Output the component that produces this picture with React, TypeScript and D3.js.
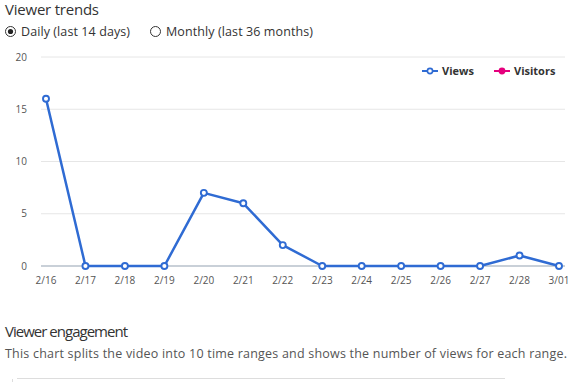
import React from "react";
import * as d3 from "d3";

const dates = ["2/16","2/17","2/18","2/19","2/20","2/21","2/22","2/23","2/24","2/25","2/26","2/27","2/28","3/01"];
const views = [16,0,0,0,7,6,2,0,0,0,0,0,1,0];
const yTicks = [0,5,10,15,20];
const legendItems = ["Views","Visitors"];
const legendColors = ["#2f6bd3","#e5007d"];

const W = 585, H = 382;
const FONT = "'Open Sans', 'Noto Sans', sans-serif";

export default function App() {
  const x = d3.scalePoint<string>().domain(dates).range([46, 559]);
  const y = d3.scaleLinear().domain([0, 20]).range([266, 57]);
  const line = d3.line<number>().x((_, i) => x(dates[i]) as number).y(d => y(d));
  return (
    <svg width={W} height={H} style={{ position: "absolute", left: 0, top: 0, background: "#fff" }} fontFamily={FONT}>
      <text x={5} y={15} fontSize={15} fill="#333" textLength={94}>Viewer trends</text>
      <circle cx={10.5} cy={31.5} r={5} fill="#fff" stroke="#333" strokeWidth={1} />
      <circle cx={10.5} cy={31.5} r={2.6} fill="#222" />
      <text x={21} y={36} fontSize={12.5} fill="#333" textLength={109}>Daily (last 14 days)</text>
      <circle cx={155.5} cy={31.5} r={5} fill="#fff" stroke="#333" strokeWidth={1} />
      <text x={166} y={36} fontSize={12.5} fill="#333" textLength={147}>Monthly (last 36 months)</text>

      {yTicks.map(t => (
        <g key={t}>
          <line x1={41} x2={565} y1={y(t)} y2={y(t)} stroke={t === 0 ? "#c9d0d8" : "#e6e6e6"} strokeWidth={t === 0 ? 2 : 1} />
          <text x={27} y={y(t) + 3.5} fontSize={10} fill="#555" textAnchor="end">{t}</text>
        </g>
      ))}
      {dates.map(d => (
        <text key={d} x={x(d)} y={284} fontSize={10} fill="#555" textAnchor="middle">{d}</text>
      ))}

      <path d={line(views) || ""} fill="none" stroke={legendColors[0]} strokeWidth={2.5} strokeLinejoin="round" />
      {views.map((v, i) => (
        <circle key={i} cx={x(dates[i])} cy={y(v)} r={3} fill="#fff" stroke={legendColors[0]} strokeWidth={1.9} />
      ))}

      {legendItems.map((l, i) => {
        const lx = i === 0 ? 422 : 494;
        return (
          <g key={l}>
            <line x1={lx} x2={lx + 16} y1={71} y2={71} stroke={legendColors[i]} strokeWidth={2} />
            <circle cx={lx + 8} cy={71} r={2.6} fill={i === 0 ? "#fff" : legendColors[i]} stroke={legendColors[i]} strokeWidth={1.6} />
            <text x={lx + 20} y={75} fontSize={11} fontWeight="bold" fill="#333">{l}</text>
          </g>
        );
      })}

      <text x={5} y={337} fontSize={15} fill="#333" textLength={123}>Viewer engagement</text>
      <text x={5} y={358} fontSize={12.5} fill="#555" textLength={562}>This chart splits the video into 10 time ranges and shows the number of views for each range.</text>
      <line x1={17} x2={505} y1={378.5} y2={378.5} stroke="#ddd" strokeWidth={1} />
      <line x1={12.5} x2={12.5} y1={379} y2={382} stroke="#ddd" strokeWidth={1} />
    </svg>
  );
}
